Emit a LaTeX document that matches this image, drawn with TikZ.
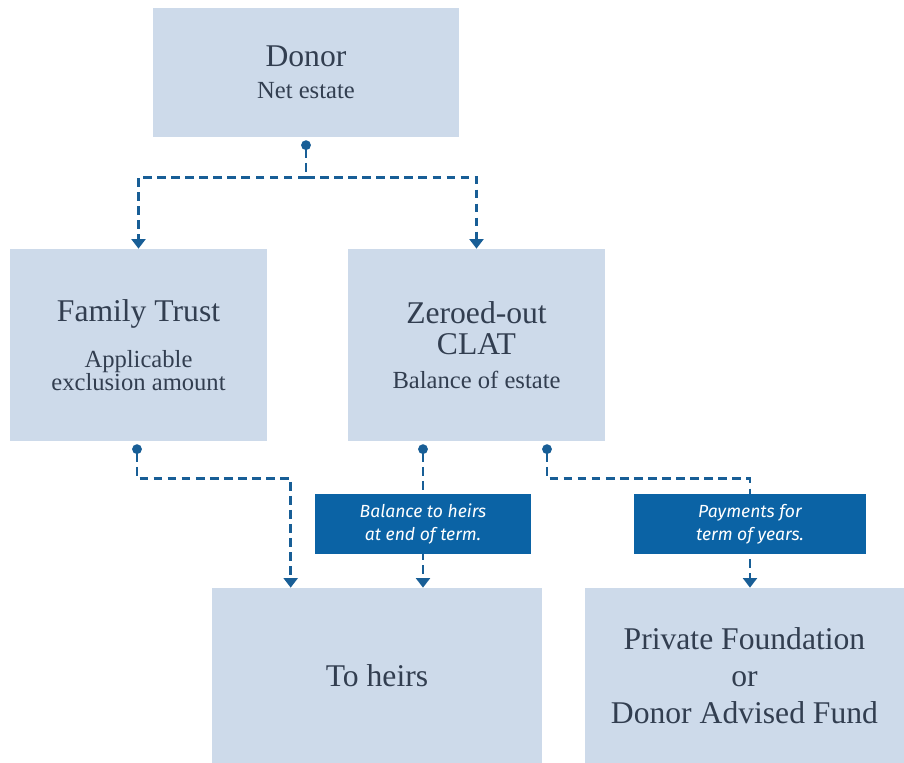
\documentclass[tikz,border=0pt]{standalone}
\usepackage{fontspec}
\setmainfont{Liberation Serif}
\newfontfamily\tagfont{Fira Sans}
\usetikzlibrary{arrows.meta,calc}
\definecolor{boxfill}{RGB}{205,218,234}
\definecolor{tagblue}{RGB}{11,99,165}
\definecolor{flowline}{RGB}{24,94,150}
\definecolor{boxtext}{RGB}{50,62,80}
\newcommand{\subline}[1]{{\fontsize{14}{15}\selectfont #1}}

\begin{document}
\begin{tikzpicture}[x=0.02cm,y=-0.02cm,
    box/.style={fill=boxfill,text=boxtext,inner sep=0pt,align=center,
      font=\fontsize{18}{21}\selectfont},
    tag/.style={fill=tagblue,text=white,inner sep=0pt,align=center,
      minimum height=1.2cm,font=\tagfont\itshape\fontsize{10}{13}\selectfont},
    flow/.style={draw=flowline,line width=1.4pt,dash pattern=on 5pt off 3pt},
    dot/.style={{Circle[length=5.5pt]}-{Triangle[width=8pt,length=5.5pt]}},
    tip/.style={-{Triangle[width=8pt,length=5.5pt]}}]
  \useasboundingbox (0,0) rectangle (904,763);

  % boxes
  \node[box,minimum width=6.12cm,minimum height=2.58cm] (donor) at (306,72.5)
    {Donor\\[-3pt]\subline{Net estate}};
  \node[box,minimum width=5.14cm,minimum height=3.84cm] (trust) at (138.5,345)
    {Family Trust\\[5pt]\subline{Applicable}\\[-8pt]\subline{exclusion amount}};
  \node[box,minimum width=5.14cm,minimum height=3.84cm] (clat) at (476.5,345)
    {Zeroed-out\\[-3pt]CLAT\\[-2pt]\subline{Balance of estate}};
  \node[box,minimum width=6.6cm,minimum height=3.5cm] (heirs) at (377,675.5)
    {To heirs};
  \node[box,minimum width=6.38cm,minimum height=3.5cm] (found) at (744.5,675.5)
    {Private Foundation\\or\\Donor Advised Fund};

  % connectors
  \coordinate (d0) at ($(donor.south)+(0,3)$);
  \coordinate (dm) at ($(d0)+(0,37)$);
  \draw[flow,dot] (d0) -- (dm) -| (trust.north);
  \draw[flow,tip] (dm) -| (clat.north);

  \coordinate (t0) at ($(trust.south)+(-1.5,3)$);
  \coordinate (h1) at ($(heirs.north west)+(79,0)$);
  \draw[flow,dot] (t0) -- ++(0,34) -| (h1);

  \coordinate (c1) at ($(clat.south)+(-53.5,3)$);
  \coordinate (h2) at ($(heirs.north)+(46,0)$);
  \draw[flow,dot] (c1) -- (h2);

  \coordinate (c2) at ($(clat.south)+(70.5,3)$);
  \coordinate (f1) at ($(found.north)+(5.5,0)$);
  \draw[flow,dot] (c2) -- ++(0,34) -| (f1);

  % labels on the lines
  \node[tag,minimum width=4.32cm] (bal) at (423,524)
    {Balance to heirs\\at end of term.};
  \node[tag,minimum width=4.64cm] (pay) at (750,524)
    {Payments for\\term of years.};
\end{tikzpicture}
\end{document}
